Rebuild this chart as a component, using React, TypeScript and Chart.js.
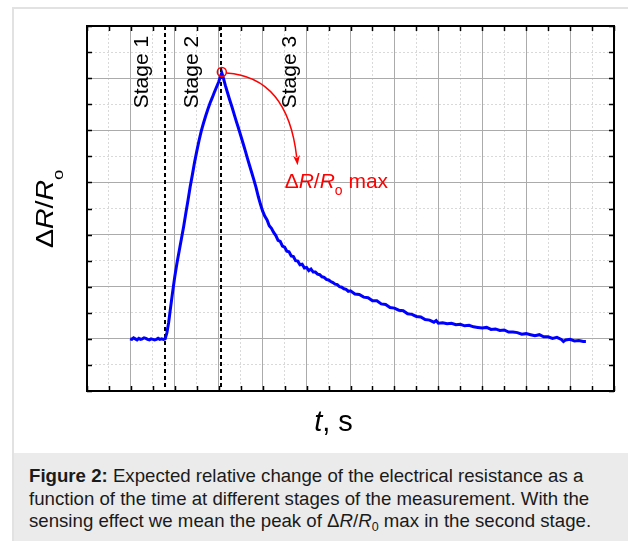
import { useEffect, useRef } from 'react';
import { Chart, registerables } from 'chart.js';

Chart.register(...registerables);

// ---- data ----
const timeS: number[] = [
  0.98, 1.02, 1.06, 1.10, 1.14, 1.18, 1.22, 1.26, 1.30, 1.34, 1.38, 1.42, 1.46, 1.50, 1.54, 1.58, 1.62, 1.66, 1.70, 1.74, 1.78,
  1.82, 1.86, 1.90, 1.95, 2.00, 2.05, 2.10, 2.15, 2.20, 2.25, 2.30, 2.35, 2.40, 2.45, 2.50, 2.55, 2.60, 2.65, 2.70, 2.75, 2.80, 2.85, 2.90, 2.95, 3.00, 3.04, 3.07,
  3.10, 3.15, 3.20, 3.25, 3.30, 3.35, 3.40, 3.45, 3.50, 3.55, 3.60, 3.65, 3.70, 3.75, 3.80, 3.85, 3.90, 3.95, 4.00,
  4.05, 4.10, 4.15, 4.20, 4.25, 4.30, 4.35, 4.40, 4.45, 4.50, 4.55, 4.60, 4.65, 4.70, 4.75, 4.80, 4.85, 4.90, 4.95, 5.00,
  5.05, 5.10, 5.15, 5.20, 5.25, 5.30, 5.35, 5.40, 5.45, 5.50, 5.55, 5.60, 5.65, 5.70, 5.75, 5.80, 5.85, 5.90, 5.95, 6.00,
  6.10, 6.20, 6.30, 6.40, 6.50, 6.60, 6.70, 6.80, 6.90, 7.00, 7.10, 7.20, 7.30, 7.40, 7.50, 7.60, 7.70, 7.80, 7.90, 7.95,
  8.00, 8.10, 8.20, 8.30, 8.40, 8.50, 8.60, 8.70, 8.80, 8.90, 9.00, 9.10, 9.20, 9.30, 9.40, 9.50, 9.60, 9.70, 9.80, 9.90,
  10.00, 10.10, 10.20, 10.30, 10.40, 10.50, 10.60, 10.70, 10.80, 10.85, 10.90, 11.00, 11.10, 11.20, 11.30, 11.36,
];
const resistanceRatio: number[] = [
  1.00, 0.99, 1.02, 1.00, 0.98, 1.01, 0.99, 1.00, 1.02, 1.01, 0.99, 0.98, 1.00, 0.99, 0.98, 0.99, 1.01, 0.99, 1.00, 0.99, 1.00,
  1.12, 1.32, 1.58, 1.90, 2.20, 2.46, 2.69, 2.92, 3.15, 3.41, 3.66, 3.92, 4.15, 4.39, 4.60, 4.80, 4.98, 5.13, 5.27, 5.40, 5.52, 5.62, 5.73, 5.83, 5.93, 6.04, 6.10,
  6.02, 5.86, 5.72, 5.58, 5.45, 5.31, 5.17, 5.04, 4.90, 4.76, 4.62, 4.47, 4.33, 4.19, 4.05, 3.90, 3.73, 3.58, 3.45,
  3.35, 3.28, 3.17, 3.12, 3.04, 2.98, 2.89, 2.87, 2.78, 2.76, 2.68, 2.67, 2.59, 2.58, 2.50, 2.49, 2.42, 2.43, 2.36, 2.37,
  2.31, 2.34, 2.28, 2.28, 2.24, 2.23, 2.19, 2.18, 2.14, 2.13, 2.10, 2.08, 2.05, 2.04, 2.00, 1.99, 1.96, 1.95, 1.91, 1.92,
  1.86, 1.85, 1.80, 1.79, 1.73, 1.73, 1.67, 1.66, 1.60, 1.59, 1.55, 1.54, 1.48, 1.47, 1.43, 1.42, 1.37, 1.36, 1.32, 1.35,
  1.30, 1.31, 1.29, 1.30, 1.27, 1.28, 1.25, 1.26, 1.23, 1.22, 1.21, 1.22, 1.18, 1.19, 1.16, 1.17, 1.13, 1.13, 1.12, 1.09,
  1.10, 1.08, 1.06, 1.08, 1.04, 1.04, 1.01, 1.03, 0.99, 0.95, 0.98, 0.99, 0.96, 0.97, 0.95, 0.95,
];
const stageBoundaries: number[] = [1.78, 3.06];
const stageLabels: string[] = ['Stage 1', 'Stage 2', 'Stage 3'];

// annotation anchors (data units)
const stageLabelX = [1.39, 2.52, 4.77];
const stageLabelTopY = 6.81;
const arrowTip = { x: 4.795, y: 4.33 };
const maxLabelAnchor = { x: 4.5, y: 3.885 };

const X_MIN = 0, X_MAX = 12, Y_MIN = 0, Y_MAX = 7, STEP = 0.5;
const FONT = '"Liberation Sans", Arial, Helvetica, sans-serif';

type Part = { text: string; size: number; italic?: boolean; dy?: number };

function richWidth(ctx: CanvasRenderingContext2D, parts: Part[]) {
  let w = 0;
  for (const p of parts) {
    ctx.font = `${p.italic ? 'italic ' : ''}${p.size}px ${FONT}`;
    w += ctx.measureText(p.text).width;
  }
  return w;
}
function drawRich(ctx: CanvasRenderingContext2D, parts: Part[], x: number, y: number) {
  let cx = x;
  ctx.textAlign = 'left';
  ctx.textBaseline = 'alphabetic';
  for (const p of parts) {
    ctx.font = `${p.italic ? 'italic ' : ''}${p.size}px ${FONT}`;
    ctx.fillText(p.text, cx, y + (p.dy || 0));
    cx += ctx.measureText(p.text).width;
  }
}

const isMajor = (v: number) => Math.abs(v - Math.round(v)) < 1e-6;

const decorPlugin = {
  id: 'decor',
  beforeDatasetsDraw(chart: any) {
    const { ctx, chartArea, scales } = chart;
    ctx.save();
    ctx.strokeStyle = '#000';
    ctx.lineWidth = 2;
    ctx.setLineDash([4, 3]);
    for (const b of stageBoundaries) {
      const px = Math.round(scales.x.getPixelForValue(b));
      ctx.beginPath();
      ctx.moveTo(px, chartArea.top);
      ctx.lineTo(px, chartArea.bottom);
      ctx.stroke();
    }
    ctx.restore();
  },
  afterDraw(chart: any) {
    const { ctx, chartArea, scales } = chart;
    const { left, right, top, bottom } = chartArea;
    const xs = scales.x, ys = scales.y;
    ctx.save();
    // frame
    ctx.strokeStyle = '#000';
    ctx.lineWidth = 2;
    ctx.strokeRect(left, top, right - left, bottom - top);
    // inward ticks
    ctx.lineWidth = 1.5;
    const tl = 5;
    for (let v = X_MIN; v <= X_MAX + 1e-9; v += STEP) {
      const px = Math.round(xs.getPixelForValue(v)) + 0.5;
      ctx.beginPath();
      ctx.moveTo(px, bottom); ctx.lineTo(px, bottom - tl);
      ctx.moveTo(px, top); ctx.lineTo(px, top + tl);
      ctx.stroke();
    }
    for (let v = Y_MIN; v <= Y_MAX + 1e-9; v += STEP) {
      const py = Math.round(ys.getPixelForValue(v)) + 0.5;
      ctx.beginPath();
      ctx.moveTo(left, py); ctx.lineTo(left + tl, py);
      ctx.moveTo(right, py); ctx.lineTo(right - tl, py);
      ctx.stroke();
    }
    // stage labels
    ctx.fillStyle = '#000';
    ctx.font = `21px ${FONT}`;
    stageLabels.forEach((s, i) => {
      ctx.save();
      ctx.translate(xs.getPixelForValue(stageLabelX[i]), ys.getPixelForValue(stageLabelTopY));
      ctx.rotate(-Math.PI / 2);
      ctx.textAlign = 'right';
      ctx.textBaseline = 'alphabetic';
      ctx.fillText(s, 0, 0);
      ctx.restore();
    });
    // peak marker
    let pi = 0;
    resistanceRatio.forEach((v, i) => { if (v > resistanceRatio[pi]) pi = i; });
    const pxp = xs.getPixelForValue(timeS[pi]);
    const pyp = ys.getPixelForValue(resistanceRatio[pi]) - 1;
    ctx.strokeStyle = '#ff0000';
    ctx.fillStyle = '#ff0000';
    ctx.lineWidth = 1.5;
    ctx.beginPath();
    ctx.arc(pxp, pyp, 4.5, 0, Math.PI * 2);
    ctx.stroke();
    // arrow
    const tx = xs.getPixelForValue(arrowTip.x), ty = ys.getPixelForValue(arrowTip.y);
    const cx = pxp + 66, cy = pyp + 5;
    let dx = tx - cx, dy = ty - cy;
    const len = Math.hypot(dx, dy); dx /= len; dy /= len;
    const headL = 10, headW = 3.5;
    const sx = tx - dx * (headL - 2), sy = ty - dy * (headL - 2);
    ctx.beginPath();
    ctx.moveTo(pxp + 4.5, pyp + 1);
    ctx.quadraticCurveTo(cx, cy, sx, sy);
    ctx.stroke();
    ctx.beginPath();
    ctx.moveTo(tx, ty);
    ctx.lineTo(tx - dx * headL - dy * headW, ty - dy * headL + dx * headW);
    ctx.lineTo(tx - dx * (headL - 3), ty - dy * (headL - 3));
    ctx.lineTo(tx - dx * headL + dy * headW, ty - dy * headL - dx * headW);
    ctx.closePath();
    ctx.fill();
    // red label
    drawRich(ctx, [
      { text: '\u0394', size: 21 },
      { text: 'R', size: 21, italic: true },
      { text: '/', size: 21 },
      { text: 'R', size: 21, italic: true },
      { text: 'o', size: 14, dy: 7 },
      { text: ' max', size: 21 },
    ], xs.getPixelForValue(maxLabelAnchor.x), ys.getPixelForValue(maxLabelAnchor.y));

    // y title
    ctx.fillStyle = '#000';
    const yParts: Part[] = [
      { text: '\u0394', size: 23 },
      { text: 'R', size: 23, italic: true },
      { text: '/', size: 23 },
      { text: 'R', size: 23, italic: true },
    ];
    const mainW = richWidth(ctx, yParts);
    const sc = 68 / mainW;
    ctx.save();
    ctx.translate(53, 248);
    ctx.rotate(-Math.PI / 2);
    ctx.scale(sc, 1);
    drawRich(ctx, [...yParts, { text: 'o', size: 15, dy: 10 }], 0, 0);
    ctx.restore();

    // x title
    const xParts: Part[] = [
      { text: 't', size: 29, italic: true },
      { text: ', s', size: 29 },
    ];
    const xw = richWidth(ctx, xParts);
    drawRich(ctx, xParts, (left + right) / 2 - xw / 2 - 17, 431);
    ctx.restore();
  },
};

export default function App() {
  const ref = useRef<HTMLCanvasElement | null>(null);
  useEffect(() => {
    if (!ref.current) return;
    Chart.defaults.font.family = FONT;
    const points = timeS.map((t, i) => ({ x: t, y: resistanceRatio[i] }));
    const chart = new Chart(ref.current, {
      type: 'line',
      data: {
        datasets: [{
          data: points,
          borderColor: '#0000ff',
          borderWidth: 3,
          pointRadius: 0,
          tension: 0,
          fill: false,
        }],
      },
      options: {
        responsive: false,
        animation: false,
        events: [],
        layout: { padding: { left: 87, right: 14, top: 26, bottom: 62 } },
        plugins: { legend: { display: false }, tooltip: { enabled: false } },
        scales: {
          x: {
            type: 'linear', min: X_MIN, max: X_MAX,
            ticks: { display: false, stepSize: STEP },
            grid: {
              drawTicks: false,
              color: (c: any) => (c.tick && isMajor(c.tick.value) ? '#ababab' : '#d9d9d9'),
              lineWidth: 1,
            },
            border: { display: false, dash: (c: any) => (c.tick && !isMajor(c.tick.value) ? [2, 2] : []) },
          },
          y: {
            type: 'linear', min: Y_MIN, max: Y_MAX,
            ticks: { display: false, stepSize: STEP },
            grid: {
              drawTicks: false,
              color: (c: any) => (c.tick && isMajor(c.tick.value) ? '#ababab' : '#d9d9d9'),
              lineWidth: 1,
            },
            border: { display: false, dash: (c: any) => (c.tick && !isMajor(c.tick.value) ? [2, 2] : []) },
          },
        },
      },
      plugins: [decorPlugin],
    } as any);
    return () => chart.destroy();
  }, []);

  return (
    <div style={{ position: 'absolute', left: 0, top: 0, width: 628, height: 541, overflow: 'hidden', background: '#fff' }}>
      <div style={{ position: 'absolute', left: 12, top: 7, width: 620, height: 540, borderLeft: '2px solid #e2e2e2', borderTop: '2px solid #e2e2e2' }} />
      <canvas ref={ref} width={628} height={453} style={{ position: 'absolute', left: 0, top: 0 }} />
      <div style={{
        position: 'absolute', left: 14, top: 453, width: 614, height: 88, background: '#ebebeb',
        boxSizing: 'border-box', padding: '12.2px 0 0 15px', fontFamily: FONT, fontSize: '18.65px',
        lineHeight: '22.5px', color: '#1a1a1a', whiteSpace: 'nowrap',
      }}>
        <b>Figure 2:</b> Expected relative change of the electrical resistance as a<br />
        function of the time at different stages of the measurement. With the<br />
        sensing effect we mean the peak of {'\u0394'}<i>R</i>/<i>R</i><span style={{ fontSize: '12.5px', position: 'relative', top: 4 }}>0</span> max in the second stage.
      </div>
    </div>
  );
}
